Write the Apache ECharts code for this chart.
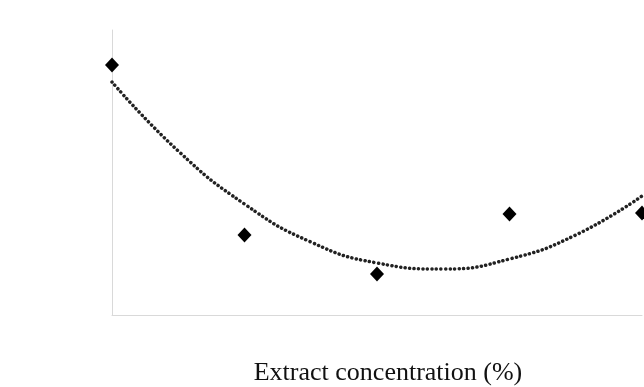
<!DOCTYPE html>
<html>
<head>
<meta charset="utf-8">
<script src="https://cdn.jsdelivr.net/npm/echarts@6/dist/echarts.min.js"></script>
<style>
  html, body { margin: 0; padding: 0; background: #fff; }
  #chart { width: 644px; height: 387px; }
</style>
</head>
<body>
<div id="chart"></div>
<script>
// measured points (x = concentration step, y = response in arbitrary units)
const pointX = [0, 1, 2, 3, 4]
const pointY = [250, 80, 41, 101, 102]

// dotted trendline
const trendX = [0, 0.5, 1, 1.5, 2, 2.5, 3, 3.5, 4]
const trendY = [233, 164, 111, 73, 52, 46, 56, 80, 119]

const xTitle = 'Extract concentration (%)'

const chart = echarts.init(document.getElementById('chart'))

chart.setOption({
  animation: false,
  backgroundColor: '#fff',
  grid: { left: 112, right: 2, top: 30, bottom: 72, outerBoundsMode: 'none' },
  xAxis: {
    type: 'value',
    min: 0,
    max: 4,
    name: xTitle,
    nameLocation: 'middle',
    nameGap: 45,
    nameTextStyle: {
      fontFamily: 'Liberation Serif',
      fontSize: 26,
      color: '#111',
      padding: [0, 0, 0, 22]
    },
    axisLine: { lineStyle: { color: '#d9d9d9', width: 1 } },
    axisTick: { show: false },
    axisLabel: { show: false },
    splitLine: { show: false }
  },
  yAxis: {
    type: 'value',
    min: 0,
    max: 285,
    axisLine: { show: true, lineStyle: { color: '#d9d9d9', width: 1 } },
    axisTick: { show: false },
    axisLabel: { show: false },
    splitLine: { show: false }
  },
  series: [
    {
      type: 'line',
      data: trendX.map((x, i) => [x, trendY[i]]),
      smooth: true,
      showSymbol: false,
      lineStyle: { color: '#222', width: 3.5, type: [0.1, 4.4], cap: 'round' },
      z: 1
    },
    {
      type: 'scatter',
      data: pointX.map((x, i) => [x, pointY[i]]),
      symbol: 'diamond',
      symbolSize: [14, 15],
      itemStyle: { color: '#000', opacity: 1 },
      clip: false,
      z: 2
    }
  ]
})
</script>
</body>
</html>
